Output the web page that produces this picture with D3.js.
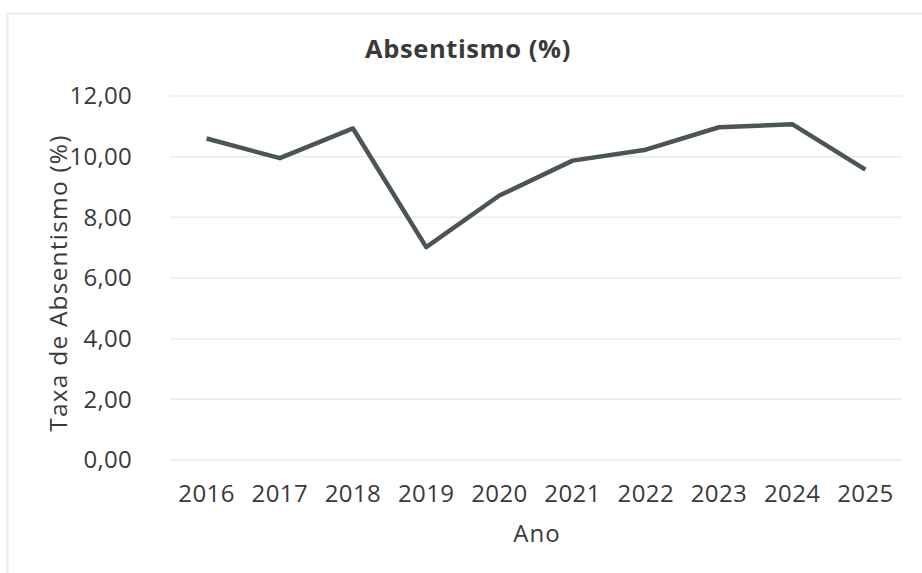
<!DOCTYPE html>
<html>
<head>
<meta charset="utf-8">
<script src="https://cdn.jsdelivr.net/npm/d3@7"></script>
<style>
  body { margin: 0; background: #fff; }
  text { font-family: "Open Sans", sans-serif; fill: #3a3a3a; }
</style>
</head>
<body>
<div id="chart-area"></div>
<script>
// data
var years = ["2016", "2017", "2018", "2019", "2020", "2021", "2022", "2023", "2024", "2025"];
var absentismo = [10.6, 9.95, 10.93, 7.02, 8.72, 9.87, 10.23, 10.97, 11.07, 9.57];
var yTicks = [0, 2, 4, 6, 8, 10, 12];

var W = 922, H = 573;
var margin = { left: 170, right: 20, top: 96, bottom: 113 };

var svg = d3.select("#chart-area")
    .append("svg")
        .attr("width", W)
        .attr("height", H);

// faint frame of the chart area
svg.append("rect")
    .attr("x", 7.5).attr("y", 13.5)
    .attr("width", W + 20).attr("height", H + 20)
    .attr("fill", "none")
    .attr("stroke", "#ececec")
    .attr("stroke-width", 2);

var x = d3.scaleBand()
    .domain(years)
    .range([margin.left, W - margin.right]);
var y = d3.scaleLinear()
    .domain([0, 12])
    .range([H - margin.bottom, margin.top]);

var fmt = function(d) { return d.toFixed(2).replace(".", ","); };

// gridlines
svg.append("g")
    .selectAll("line")
    .data(yTicks)
    .enter().append("line")
        .attr("x1", margin.left)
        .attr("x2", W - margin.right)
        .attr("y1", function(d) { return y(d); })
        .attr("y2", function(d) { return y(d); })
        .attr("stroke", "#ebebeb")
        .attr("stroke-width", 1.5);

// y axis labels
var yAxis = svg.append("g")
    .attr("transform", "translate(" + margin.left + ",0)")
    .call(d3.axisLeft(y).tickValues(yTicks).tickFormat(fmt).tickSize(0).tickPadding(38));
yAxis.select(".domain").remove();
yAxis.selectAll("text")
    .attr("font-size", "24px")
    .attr("font-family", "Open Sans, sans-serif")
    .attr("letter-spacing", "0.3px")
    .attr("fill", "#3a3a3a");

// x axis labels
var xAxis = svg.append("g")
    .attr("transform", "translate(0," + (H - margin.bottom) + ")")
    .call(d3.axisBottom(x).tickSize(0).tickPadding(25));
xAxis.select(".domain").remove();
xAxis.selectAll("text")
    .attr("font-size", "24px")
    .attr("font-family", "Open Sans, sans-serif")
    .attr("letter-spacing", "0.4px")
    .attr("fill", "#3a3a3a");

// line
var line = d3.line()
    .x(function(d, i) { return x(years[i]) + x.bandwidth() / 2; })
    .y(function(d) { return y(d); });
svg.append("path")
    .datum(absentismo)
    .attr("d", line)
    .attr("fill", "none")
    .attr("stroke", "#4b5556")
    .attr("stroke-width", 4.5)
    .attr("stroke-linejoin", "round");

// titles
svg.append("text")
    .attr("x", 468).attr("y", 58)
    .attr("text-anchor", "middle")
    .attr("font-size", "25.5px")
    .attr("font-weight", "bold")
    .attr("letter-spacing", "0.6px")
    .attr("fill", "#2a2a2a")
    .text("Absentismo (%)");
svg.append("text")
    .attr("x", 537).attr("y", 542)
    .attr("text-anchor", "middle")
    .attr("font-size", "24px")
    .attr("letter-spacing", "1px")
    .text("Ano");
svg.append("text")
    .attr("transform", "translate(67,283) rotate(-90)")
    .attr("text-anchor", "middle")
    .attr("font-size", "24.5px")
    .attr("letter-spacing", "1.2px")
    .text("Taxa de Absentismo (%)");
</script>
</body>
</html>
